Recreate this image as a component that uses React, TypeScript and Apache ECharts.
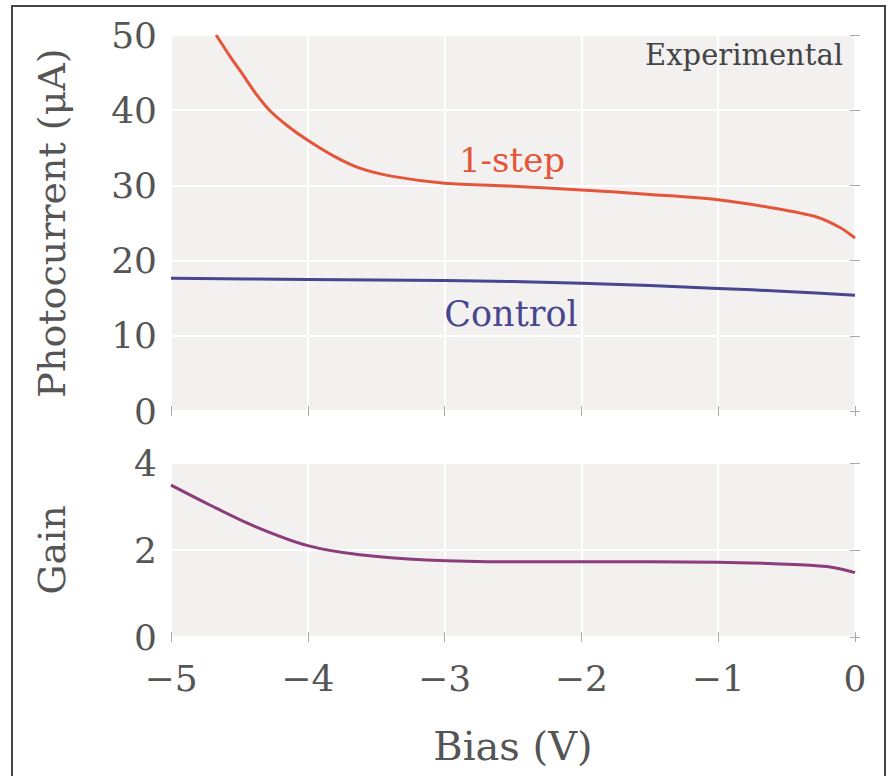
import React, { useEffect, useRef } from "react";
import * as echarts from "echarts";

// 1-step photocurrent (µA) vs bias (V)
const oneStepBias = [-4.67, -4.57, -4.47, -4.38, -4.28, -4.14, -4.0, -3.81, -3.62, -3.38, -3.0, -2.5, -2.0, -1.5, -1.0, -0.6, -0.28, -0.11, 0];
const oneStepCurrent = [50, 47.2, 44.6, 42.2, 40.0, 37.8, 36.0, 33.9, 32.3, 31.2, 30.3, 29.9, 29.4, 28.8, 28.1, 27.0, 25.8, 24.4, 23.0];

// Control photocurrent (µA)
const controlBias = [-5, -4, -3, -2, -1, -0.5, 0];
const controlCurrent = [17.65, 17.5, 17.35, 17.0, 16.3, 15.9, 15.4];

// Gain
const gainBias = [-5, -4.72, -4.4, -4.0, -3.62, -3.13, -2.52, -2.0, -1.0, -0.4, -0.16, 0];
const gainValues = [3.49, 3.04, 2.56, 2.1, 1.89, 1.77, 1.73, 1.73, 1.72, 1.66, 1.6, 1.48];

const FONT = "DejaVu Serif";
const LABEL_COLOR = "#555555";
const TICK_COLOR = "#aaaaaa";

const zip = (xs: number[], ys: number[]) => xs.map((x, i) => [x, ys[i]]);
const minusFmt = (v: number) => String(v).replace("-", "\u2212");

export default function App() {
  const ref = useRef<HTMLDivElement>(null);
  useEffect(() => {
    if (!ref.current) return;
    const chart = echarts.init(ref.current, undefined, { renderer: "svg" });
    const tick = { show: true, length: 5, inside: false, lineStyle: { color: TICK_COLOR, width: 1 } };
    const split = { show: true, lineStyle: { color: "#ffffff", width: 2 } };
    const hiddenLabel = { show: false };
    const xBase = { type: "value", min: -5, max: 0, interval: 1, axisLine: { show: false }, axisTick: tick };
    chart.setOption({
      animation: false,
      backgroundColor: "#ffffff",
      grid: [
        { left: 171, top: 35, width: 684, height: 376, show: true, backgroundColor: "#f2f1f0", borderWidth: 0 },
        { left: 171, top: 463, width: 684, height: 174, show: true, backgroundColor: "#f2f1f0", borderWidth: 0 },
      ],
      xAxis: [
        { ...xBase, gridIndex: 0, position: "bottom", axisLabel: hiddenLabel, splitLine: split },
        { ...xBase, gridIndex: 0, position: "top", axisLabel: hiddenLabel, splitLine: { show: false } },
        {
          ...xBase,
          gridIndex: 1,
          position: "bottom",
          splitLine: split,
          axisLabel: { show: true, fontFamily: FONT, fontSize: 36, color: LABEL_COLOR, margin: 23, formatter: minusFmt },
          name: "Bias (V)",
          nameLocation: "middle",
          nameGap: 89,
          nameTextStyle: { fontFamily: FONT, fontSize: 40, color: LABEL_COLOR },
        },
        { ...xBase, gridIndex: 1, position: "top", axisLabel: hiddenLabel, splitLine: { show: false } },
      ],
      yAxis: [
        {
          type: "value",
          gridIndex: 0,
          min: 0,
          max: 50,
          interval: 10,
          position: "left",
          axisLine: { show: false },
          axisTick: tick,
          splitLine: split,
          axisLabel: { fontFamily: FONT, fontSize: 36, color: LABEL_COLOR, margin: 14 },
          name: "Photocurrent (\u03bcA)",
          nameLocation: "middle",
          nameGap: 100,
          nameTextStyle: { fontFamily: FONT, fontSize: 38, color: LABEL_COLOR },
        },
        {
          type: "value", gridIndex: 0, min: 0, max: 50, interval: 10, position: "right",
          axisLine: { show: false }, axisTick: tick, splitLine: { show: false }, axisLabel: hiddenLabel,
        },
        {
          type: "value",
          gridIndex: 1,
          min: 0,
          max: 4,
          interval: 2,
          position: "left",
          axisLine: { show: false },
          axisTick: tick,
          splitLine: split,
          axisLabel: { fontFamily: FONT, fontSize: 36, color: LABEL_COLOR, margin: 14 },
          name: "Gain",
          nameLocation: "middle",
          nameGap: 100,
          nameTextStyle: { fontFamily: FONT, fontSize: 38, color: LABEL_COLOR },
        },
        {
          type: "value", gridIndex: 1, min: 0, max: 4, interval: 2, position: "right",
          axisLine: { show: false }, axisTick: tick, splitLine: { show: false }, axisLabel: hiddenLabel,
        },
      ],
      series: [
        {
          name: "1-step",
          type: "line",
          xAxisIndex: 0,
          yAxisIndex: 0,
          data: zip(oneStepBias, oneStepCurrent),
          smooth: 0.3,
          showSymbol: false,
          lineStyle: { color: "#e4553a", width: 3 },
        },
        {
          name: "Control",
          type: "line",
          xAxisIndex: 0,
          yAxisIndex: 0,
          data: zip(controlBias, controlCurrent),
          smooth: 0.3,
          showSymbol: false,
          lineStyle: { color: "#47468f", width: 3 },
        },
        {
          name: "Gain",
          type: "line",
          xAxisIndex: 2,
          yAxisIndex: 2,
          data: zip(gainBias, gainValues),
          smooth: 0.3,
          showSymbol: false,
          lineStyle: { color: "#8c3b7b", width: 3 },
        },
      ],
      graphic: [
        {
          type: "rect",
          shape: { x: 12, y: 6, width: 873, height: 800 },
          style: { fill: "none", stroke: "#444444", lineWidth: 2 },
          silent: true,
          z: 100,
        },
        {
          type: "text",
          x: 843,
          y: 55,
          style: { text: "Experimental", fontFamily: FONT, fontSize: 29, fill: "#444444", align: "right", verticalAlign: "middle" },
        },
        {
          type: "text",
          x: 512,
          y: 160,
          style: { text: "1-step", fontFamily: FONT, fontSize: 34, fill: "#e4553a", align: "center", verticalAlign: "middle" },
        },
        {
          type: "text",
          x: 511,
          y: 314,
          style: { text: "Control", fontFamily: FONT, fontSize: 35, fill: "#47468f", align: "center", verticalAlign: "middle" },
        },
      ],
    });
    return () => chart.dispose();
  }, []);
  return <div ref={ref} style={{ position: "absolute", left: 0, top: 0, width: 891, height: 776 }} />;
}
